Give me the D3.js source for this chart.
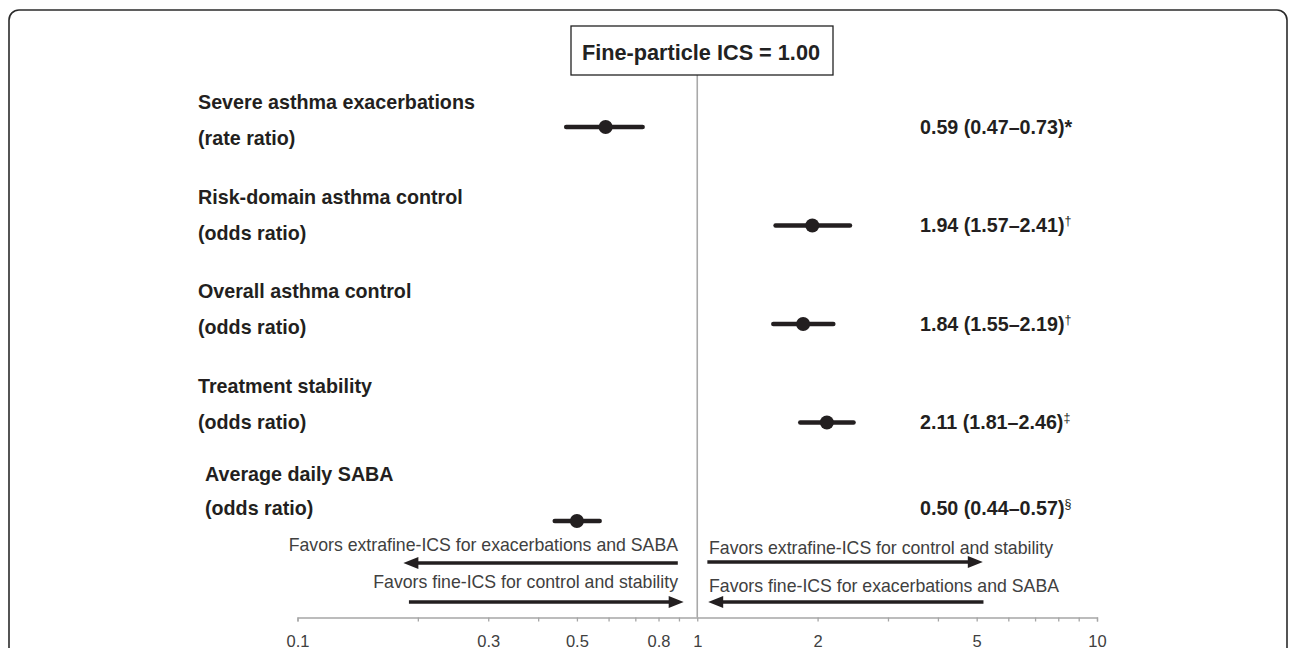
<!DOCTYPE html>
<html>
<head>
<meta charset="utf-8">
<script src="https://cdn.jsdelivr.net/npm/d3@7"></script>
<style>
  body { margin: 0; background: #fff; }
  svg { display: block; font-family: "Liberation Sans", Arial, sans-serif; }
</style>
</head>
<body>
<div id="forest"></div>
<script>
// outcomes, one row each
var outcomes = ["Severe asthma exacerbations", "Risk-domain asthma control",
  "Overall asthma control", "Treatment stability", "Average daily SABA"];
var measures = ["(rate ratio)", "(odds ratio)", "(odds ratio)", "(odds ratio)", "(odds ratio)"];
var estimates = [0.59, 1.94, 1.84, 2.11, 0.50];
var lower = [0.47, 1.57, 1.55, 1.81, 0.44];
var upper = [0.73, 2.41, 2.19, 2.46, 0.57];
var footnotes = ["*", "\u2020", "\u2020", "\u2021", "\u00a7"];

// axis
var tickValues = [0.1, 0.2, 0.3, 0.4, 0.5, 0.6, 0.7, 0.8, 0.9, 1, 2, 3, 4, 5, 6, 7, 8, 9, 10];
var tickLabels = [0.1, 0.3, 0.5, 0.8, 1, 2, 5, 10];

// direction arrows: text, start value, end value (head at end)
var arrowTexts = ["Favors extrafine-ICS for exacerbations and SABA", "Favors fine-ICS for control and stability",
  "Favors extrafine-ICS for control and stability", "Favors fine-ICS for exacerbations and SABA"];
var arrowFrom = [0.894, 0.19, 1.06, 5.2];
var arrowTo = [0.184, 0.925, 5.18, 1.065];

var svgWidth = 1292;
var svgHeight = 648;

var svg = d3.select("#forest")
  .append("svg")
  .attr("width", svgWidth)
  .attr("height", svgHeight);

// frame
svg.append("rect")
  .attr("x", 9)
  .attr("y", 10)
  .attr("width", 1278)
  .attr("height", 660)
  .attr("rx", 10)
  .attr("fill", "none")
  .attr("stroke", "#2b2b2b")
  .attr("stroke-width", 1.6);

var x = d3.scaleLog()
  .domain([0.1, 10])
  .range([297.5, 1097]);

var rows = d3.range(outcomes.length);

// point rows and label rows
var yPoint = d3.scalePoint().domain(rows).range([127, 521]);
var yLabel = d3.scalePoint().domain(rows).range([102, 481]);

function titleY(d) { return d === 4 ? yLabel(d) - 7 : yLabel(d); }
function subY(d) { return d === 4 ? yLabel(d) + 27 : yLabel(d) + 36; }

var axisY = 617.5;

// reference line at 1
svg.append("line")
  .attr("x1", x(1))
  .attr("x2", x(1))
  .attr("y1", 75)
  .attr("y2", axisY)
  .attr("stroke", "#a9a9a9")
  .attr("stroke-width", 1.6);

// header box
svg.append("rect")
  .attr("x", 571)
  .attr("y", 26)
  .attr("width", 262)
  .attr("height", 49)
  .attr("fill", "#fff")
  .attr("stroke", "#222")
  .attr("stroke-width", 1.3);

svg.append("text")
  .attr("x", 701)
  .attr("y", 52)
  .attr("dy", "0.35em")
  .attr("text-anchor", "middle")
  .attr("font-weight", "bold")
  .attr("font-size", 21.7)
  .attr("fill", "#222")
  .text("Fine-particle ICS = 1.00");

// axis
var xAxis = d3.axisBottom(x)
  .tickValues(tickValues)
  .tickSize(4)
  .tickPadding(14)
  .tickFormat(function(d) { return tickLabels.indexOf(d) >= 0 ? d3.format("~g")(d) : ""; });

var axisG = svg.append("g")
  .attr("transform", `translate(0, ${axisY})`)
  .call(xAxis);

axisG.select(".domain").attr("stroke", "#a6a6a6").attr("stroke-width", 1.3);
axisG.selectAll(".tick line").attr("stroke", "#a6a6a6").attr("stroke-width", 1.3);
axisG.selectAll(".tick text")
  .attr("font-size", 16.5)
  .attr("fill", "#404040")
  .attr("font-family", "'Liberation Sans', Arial, sans-serif");

// labels
var labelSize = 19.7;

svg.selectAll(".outcome")
  .data(rows)
  .enter()
  .append("text")
  .attr("class", "outcome")
  .attr("x", d => d === 4 ? 205 : 198)
  .attr("y", titleY)
  .attr("dy", "0.35em")
  .attr("font-weight", "bold")
  .attr("font-size", labelSize)
  .attr("fill", "#231f20")
  .text(d => outcomes[d]);

svg.selectAll(".measure")
  .data(rows)
  .enter()
  .append("text")
  .attr("class", "measure")
  .attr("x", d => d === 4 ? 205 : 198)
  .attr("y", subY)
  .attr("dy", "0.35em")
  .attr("font-weight", "bold")
  .attr("font-size", labelSize)
  .attr("fill", "#231f20")
  .text(d => measures[d]);

// CI lines
svg.selectAll(".ci")
  .data(rows)
  .enter()
  .append("line")
  .attr("class", "ci")
  .attr("x1", d => x(lower[d]))
  .attr("x2", d => x(upper[d]))
  .attr("y1", d => yPoint(d))
  .attr("y2", d => yPoint(d))
  .attr("stroke", "#231f20")
  .attr("stroke-width", 4.5)
  .attr("stroke-linecap", "round");

svg.selectAll(".est")
  .data(rows)
  .enter()
  .append("circle")
  .attr("class", "est")
  .attr("cx", d => x(estimates[d]))
  .attr("cy", d => yPoint(d))
  .attr("r", 7)
  .attr("fill", "#231f20");

// value text
var fmt = d3.format(".2f");
var valText = svg.selectAll(".val")
  .data(rows)
  .enter()
  .append("text")
  .attr("class", "val")
  .attr("x", 920)
  .attr("y", d => Math.min(yPoint(d), subY(d)))
  .attr("dy", "0.35em")
  .attr("font-weight", "bold")
  .attr("font-size", labelSize)
  .attr("fill", "#231f20");

valText.append("tspan")
  .text(d => fmt(estimates[d]) + " (" + fmt(lower[d]) + "\u2013" + fmt(upper[d]) + ")");
valText.append("tspan")
  .attr("dy", d => d === 0 ? 0 : -7)
  .attr("font-size", d => d === 0 ? labelSize : 12.5)
  .attr("font-weight", d => d === 0 ? "bold" : "normal")
  .text(d => footnotes[d]);

// arrows
var arrowRows = [563, 602, 562, 602];
var arrowTextY = [545, 582, 548, 586];

svg.selectAll(".arrow")
  .data(d3.range(arrowTexts.length))
  .enter()
  .append("line")
  .attr("class", "arrow")
  .attr("x1", d => x(arrowFrom[d]))
  .attr("x2", d => x(arrowTo[d]) + (arrowTo[d] < arrowFrom[d] ? 10 : -10))
  .attr("y1", d => arrowRows[d])
  .attr("y2", d => arrowRows[d])
  .attr("stroke", "#231f20")
  .attr("stroke-width", 3.5);

svg.selectAll(".head")
  .data(d3.range(arrowTexts.length))
  .enter()
  .append("path")
  .attr("class", "head")
  .attr("d", function(d) {
    var tip = x(arrowTo[d]);
    var dir = arrowTo[d] < arrowFrom[d] ? 1 : -1;
    var yy = arrowRows[d];
    return `M${tip},${yy} L${tip + dir * 15},${yy - 6} L${tip + dir * 15},${yy + 6} Z`;
  })
  .attr("fill", "#231f20");

svg.selectAll(".atext")
  .data(d3.range(arrowTexts.length))
  .enter()
  .append("text")
  .attr("class", "atext")
  .attr("x", d => d < 2 ? 678 : 709)
  .attr("y", d => arrowTextY[d])
  .attr("dy", "0.35em")
  .attr("text-anchor", d => d < 2 ? "end" : "start")
  .attr("font-size", 17.7)
  .attr("fill", "#404040")
  .text(d => arrowTexts[d]);
</script>
</body>
</html>
